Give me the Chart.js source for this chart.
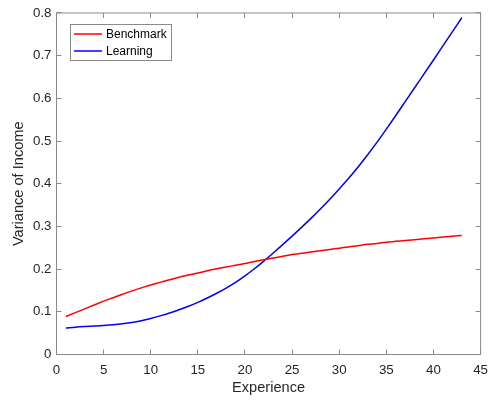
<!DOCTYPE html>
<html><head><meta charset="utf-8">
<script src="https://cdn.jsdelivr.net/npm/chart.js@4/dist/chart.umd.min.js"></script>
<style>html,body{margin:0;padding:0;background:#fff;}#wrap{width:496px;height:400px;position:relative;}</style>
</head><body><div id="wrap"><canvas id="c" width="496" height="400"></canvas></div>
<script>
const experience = [1,2,3,4,5,6,7,8,9,10,11,12,13,14,15,16,17,18,19,20,21,22,23,24,25,26,27,28,29,30,31,32,33,34,35,36,37,38,39,40,41,42,43];
const benchmark = [0.089,0.098,0.107,0.116,0.125,0.133,0.141,0.149,0.156,0.163,0.169,0.175,0.181,0.186,0.191,0.196,0.201,0.205,0.209,0.213,0.218,0.222,0.226,0.230,0.234,0.237,0.240,0.243,0.246,0.249,0.252,0.255,0.258,0.260,0.263,0.265,0.267,0.269,0.271,0.273,0.275,0.277,0.279];
const learning = [0.062,0.064,0.0655,0.0667,0.068,0.0697,0.072,0.075,0.0792,0.0845,0.0905,0.0972,0.1047,0.113,0.1222,0.1323,0.1434,0.1556,0.169,0.1842,0.2008,0.2188,0.2378,0.2573,0.2773,0.2978,0.3188,0.3408,0.3638,0.3878,0.4128,0.4393,0.4673,0.4968,0.5278,0.5598,0.5923,0.6248,0.6573,0.6898,0.7228,0.7558,0.7888];
const seriesNames = ['Benchmark','Learning'];
const xTickLabels = ['0','5','10','15','20','25','30','35','40','45'];
const yTickLabels = ['0','0.1','0.2','0.3','0.4','0.5','0.6','0.7','0.8'];
const xTitle = 'Experience';
const yTitle = 'Variance of Income';

const FONT = '"Liberation Sans", Arial, Helvetica, sans-serif';
const TXT = '#262626';
const AX = '#8a8a8a';

const frame = {
  id: 'frame',
  afterDatasetsDraw(chart) {
    const {ctx, chartArea: a, scales: {x, y}} = chart;
    ctx.save();
    ctx.strokeStyle = AX; ctx.lineWidth = 1;
    ctx.beginPath();
    const L = 5;
    x.ticks.forEach(t => {
      const px = Math.floor(x.getPixelForValue(t.value)) + 0.5;
      ctx.moveTo(px, a.bottom); ctx.lineTo(px, a.bottom - L);
      ctx.moveTo(px, a.top); ctx.lineTo(px, a.top + L);
    });
    y.ticks.forEach(t => {
      const py = Math.floor(y.getPixelForValue(t.value)) + 0.5;
      ctx.moveTo(a.left, py); ctx.lineTo(a.left + L, py);
      ctx.moveTo(a.right, py); ctx.lineTo(a.right - L, py);
    });
    ctx.stroke();
    ctx.strokeRect(a.left, a.top, a.right - a.left, a.bottom - a.top);
    ctx.restore();
  },
  afterDraw(chart) {
    const ctx = chart.ctx;
    ctx.save();
    ctx.fillStyle = '#fff';
    ctx.fillRect(70.5, 24.5, 101, 36);
    ctx.strokeStyle = AX; ctx.lineWidth = 1;
    ctx.strokeRect(70.5, 24.5, 101, 36);
    ctx.font = '12px ' + FONT;
    ctx.textBaseline = 'middle';
    ctx.textAlign = 'left';
    chart.data.datasets.forEach((ds, i) => {
      const yy = 34 + i * 17;
      ctx.strokeStyle = ds.borderColor; ctx.lineWidth = 1.5;
      ctx.beginPath(); ctx.moveTo(74, yy); ctx.lineTo(102, yy); ctx.stroke();
      ctx.fillStyle = '#000';
      ctx.fillText(ds.label, 106, yy + 0.5);
    });
    ctx.restore();
  }
};

new Chart(document.getElementById('c'), {
  type: 'line',
  data: {
    datasets: [
      {label: seriesNames[0], data: experience.map((e, i) => ({x: e, y: benchmark[i]})), borderColor: '#ff0000', borderWidth: 1.5, pointRadius: 0, fill: false, cubicInterpolationMode: 'monotone'},
      {label: seriesNames[1], data: experience.map((e, i) => ({x: e, y: learning[i]})), borderColor: '#0000ff', borderWidth: 1.5, pointRadius: 0, fill: false, cubicInterpolationMode: 'monotone'}
    ]
  },
  options: {
    responsive: false,
    animation: false,
    devicePixelRatio: 1,
    layout: {padding: {left: 0, right: 5.5, top: 10.5, bottom: 0}},
    plugins: {legend: {display: false}, tooltip: {enabled: false}},
    scales: {
      x: {
        type: 'linear', min: 0, max: 45,
        afterBuildTicks: s => { s.ticks = xTickLabels.map(v => ({value: Number(v)})); },
        ticks: {callback: (v, i) => xTickLabels[i], color: TXT, font: {family: FONT, size: 13.3}, padding: 8, maxRotation: 0, autoSkip: false},
        grid: {display: false, drawTicks: false},
        border: {display: false},
        title: {display: true, text: xTitle, color: TXT, font: {family: FONT, size: 14.6}, padding: {top: 0, bottom: 3}},
        afterFit: s => { s.height = 45.5; }
      },
      y: {
        type: 'linear', min: 0, max: 0.8,
        afterBuildTicks: s => { s.ticks = yTickLabels.map(v => ({value: Number(v)})); },
        ticks: {callback: (v, i) => yTickLabels[i], color: TXT, font: {family: FONT, size: 13.3}, padding: 5, autoSkip: false},
        grid: {display: false, drawTicks: false},
        border: {display: false},
        title: {display: true, text: yTitle, color: TXT, font: {family: FONT, size: 14.6}, padding: {top: 10, bottom: 0}},
        afterFit: s => { s.width = 56.5; }
      }
    }
  },
  plugins: [frame]
});
</script>
</body></html>
